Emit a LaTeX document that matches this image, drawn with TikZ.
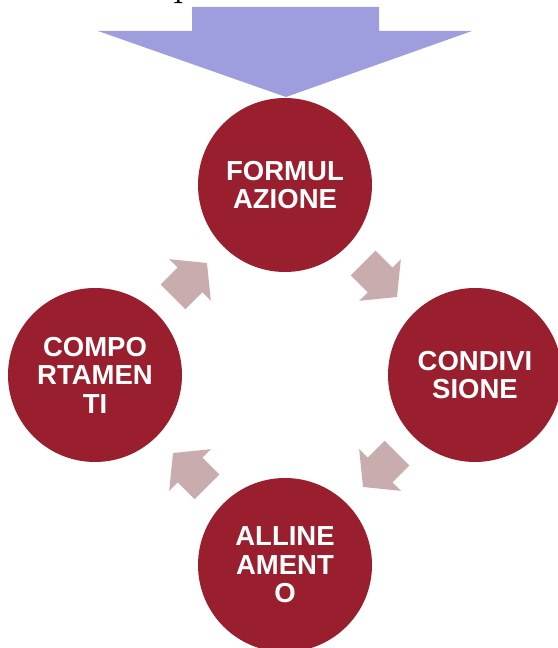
\documentclass[tikz,border=0pt]{standalone}
\usepackage{fontspec}
\setmainfont{Liberation Sans}
\newfontfamily\lmserif{Latin Modern Roman}
\usetikzlibrary{calc}
\definecolor{cyclered}{HTML}{9A1F2E}
\definecolor{arrowpink}{HTML}{C9ACAE}
\definecolor{topblue}{HTML}{9E9EDE}
\def\cyclearrow(#1)(#2){\fill[arrowpink, shift={(#1)}, rotate=#2] (-24,-17.5) -- (0,-17.5) -- (0,-29.5) -- (24,0) -- (0,29.5) -- (0,17.5) -- (-24,17.5) -- cycle;}

\begin{document}
\begin{tikzpicture}[x=1pt, y=1pt,
	stage/.style={circle, fill=cyclered, minimum size=174, inner sep=0, text=white, align=center, font=\bfseries\fontsize{27.5}{28.5}\selectfont}]
			%%%%% START %%%%%
			\useasboundingbox (0, 0) rectangle (557, 648);
			
			\node[anchor=base, font=\lmserif\fontsize{42}{42}\selectfont] (title) at (184, 652) {p};
			\fill[topblue] (192, 641) -- (379, 641) -- (379, 617) -- (472, 617) -- (286, 551) -- (98, 617) -- (192, 617) -- cycle;
			
			\node[stage] (formul) at (285, 463) {FORMUL\\AZIONE};
			\node[stage] (condiv) at (475, 273) {CONDIVI\\SIONE};
			\node[stage] (allin) at (285, 83) {ALLINE\\AMENT\\O};
			\node[stage] (compor) at (95, 273) {COMPO\\RTAMEN\\TI};
			
			\cyclearrow(380, 368)(-45)
			\cyclearrow(380, 178)(-135)
			\cyclearrow(190, 178)(135)
			\cyclearrow(190, 368)(45)
			
			%%%%% END %%%%%
\end{tikzpicture}
\end{document}
